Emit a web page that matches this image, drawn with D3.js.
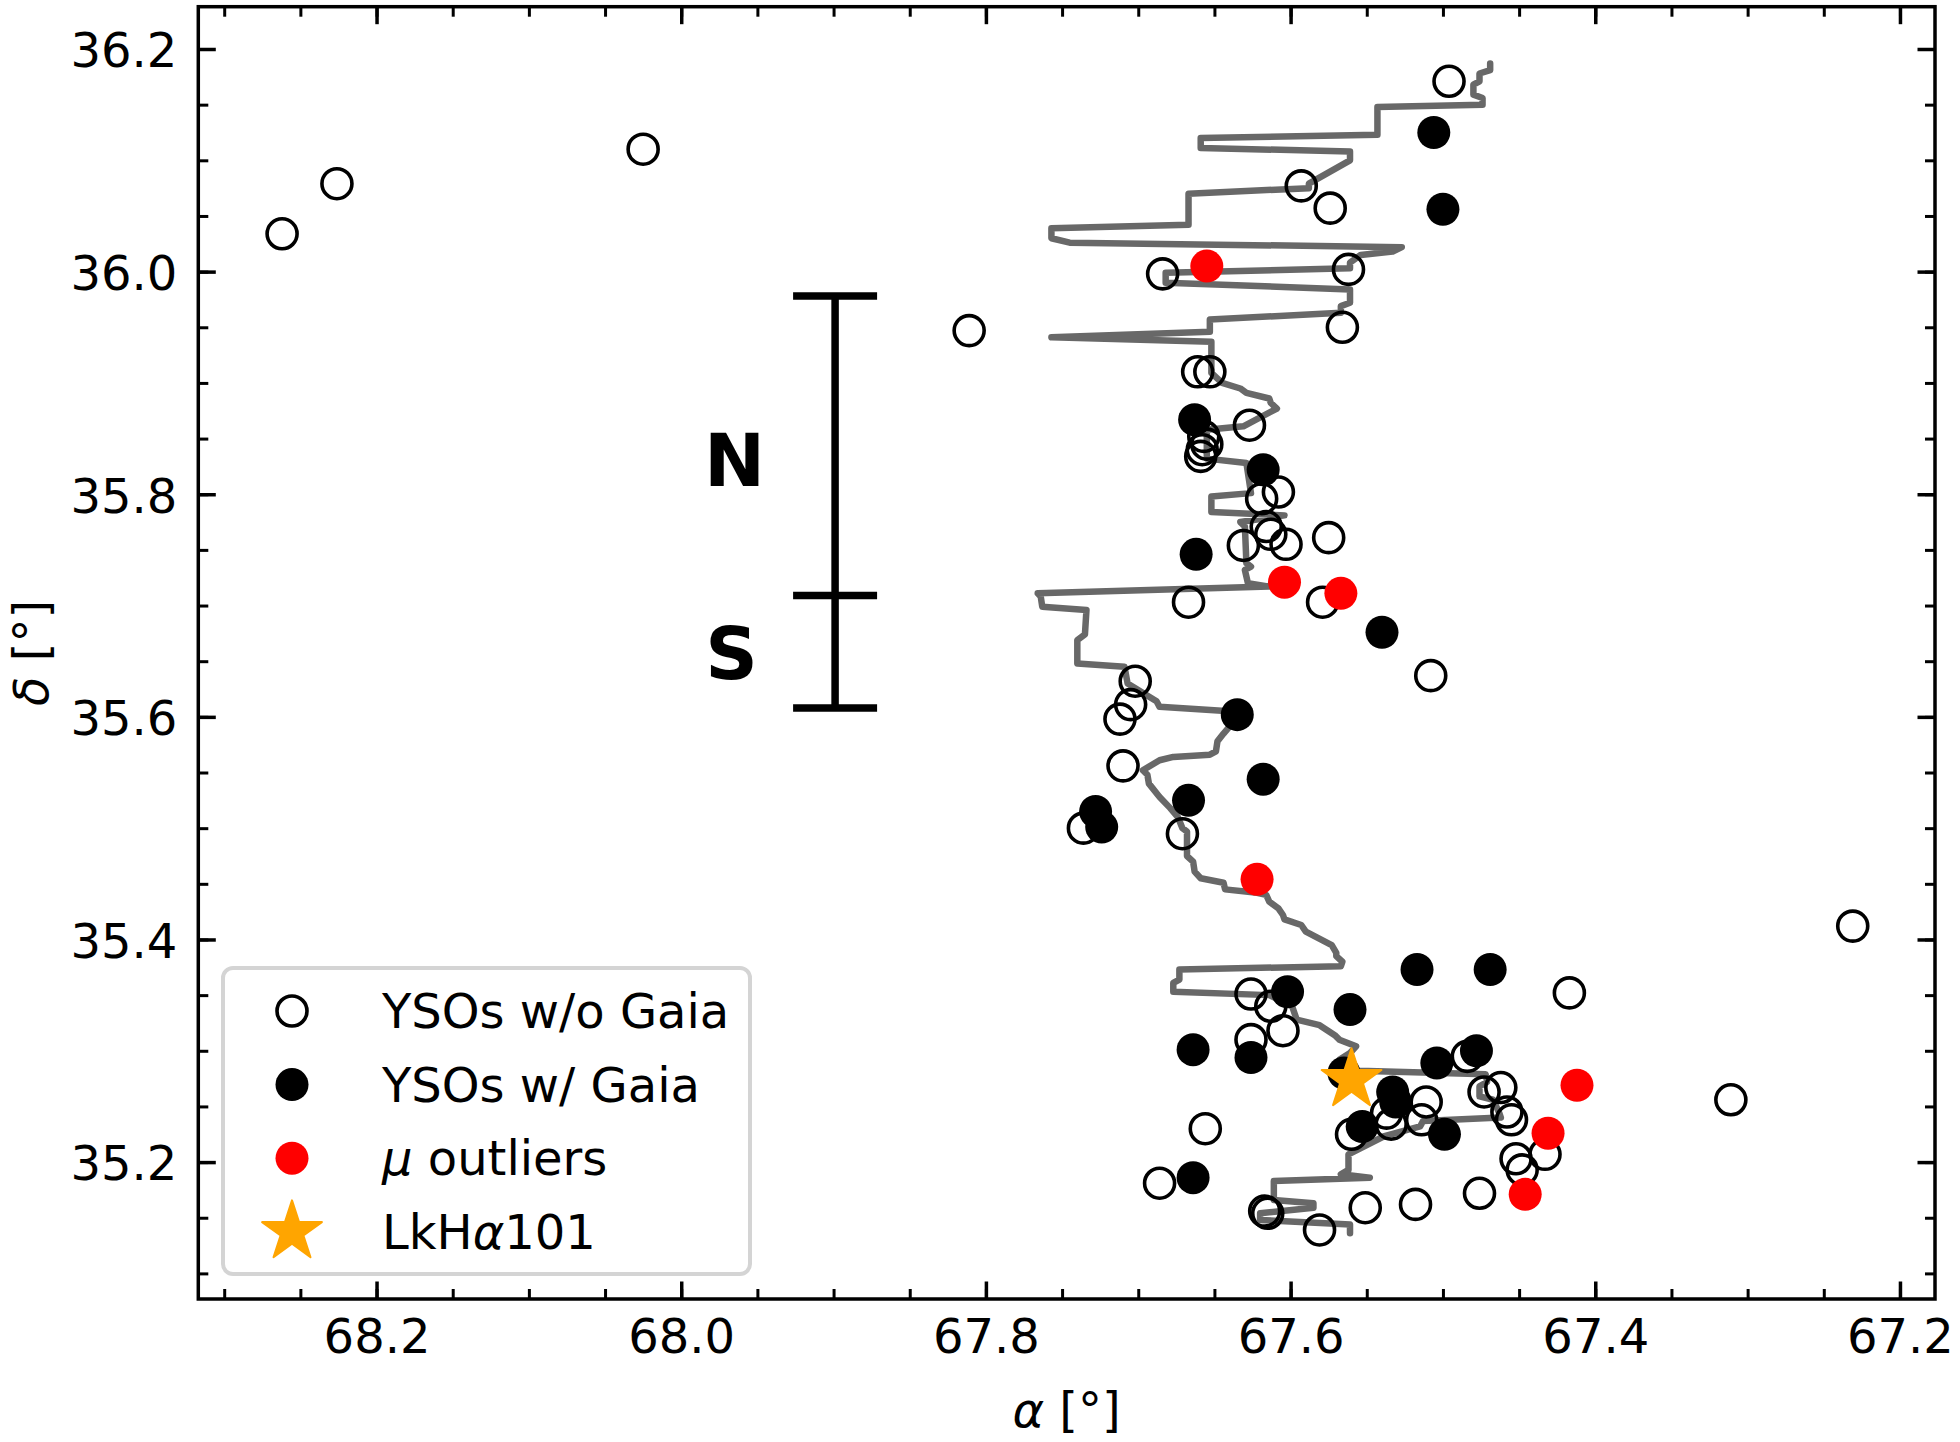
<!DOCTYPE html>
<html>
<head>
<meta charset="utf-8">
<script src="https://cdn.jsdelivr.net/npm/d3@7"></script>
<style>
  body { margin: 0; background: #fff; }
  svg { display: block; }
</style>
</head>
<body>
<div id="chart"></div>
<script>
// --- data (RA / Dec in degrees) ---
const noGaiaRA  = [68.262, 68.226, 68.025, 67.811, 67.496, 67.593, 67.574, 67.684, 67.562, 67.566,
                   67.661, 67.653, 67.627, 67.657, 67.655, 67.658, 67.659, 67.608, 67.619, 67.616,
                   67.613, 67.603, 67.631, 67.575, 67.579, 67.667, 67.508, 67.702, 67.705, 67.712,
                   67.710, 67.736, 67.671, 67.231, 67.417, 67.626, 67.613, 67.605, 67.626, 67.484,
                   67.511, 67.473, 67.462, 67.458, 67.455, 67.514, 67.534, 67.537, 67.560, 67.433,
                   67.452, 67.448, 67.656, 67.686, 67.476, 67.617, 67.615, 67.581, 67.551, 67.518,
                   67.311];
const noGaiaDec = [36.034, 36.079, 36.110, 35.947, 36.171, 36.077, 36.057, 35.998, 36.002, 35.950,
                   35.910, 35.910, 35.862, 35.852, 35.845, 35.840, 35.834, 35.802, 35.796, 35.771,
                   35.764, 35.755, 35.754, 35.761, 35.703, 35.703, 35.637, 35.632, 35.611, 35.598,
                   35.556, 35.500, 35.495, 35.412, 35.352, 35.351, 35.340, 35.318, 35.310, 35.295,
                   35.254, 35.263, 35.267, 35.245, 35.238, 35.238, 35.234, 35.244, 35.225, 35.207,
                   35.203, 35.193, 35.230, 35.181, 35.172, 35.156, 35.154, 35.139, 35.159, 35.162,
                   35.256];

const gaiaRA  = [67.506, 67.500, 67.663, 67.618, 67.662, 67.540, 67.635, 67.618, 67.667, 67.728,
                 67.724, 67.517, 67.469, 67.602, 67.561, 67.626, 67.664, 67.504, 67.478, 67.565,
                 67.533, 67.531, 67.553, 67.499, 67.664];
const gaiaDec = [36.125, 36.056, 35.867, 35.822, 35.746, 35.676, 35.602, 35.544, 35.525, 35.515,
                 35.501, 35.373, 35.373, 35.353, 35.337, 35.294, 35.301, 35.289, 35.300, 35.280,
                 35.263, 35.254, 35.232, 35.225, 35.186];

const outlierRA  = [67.655, 67.604, 67.567, 67.622, 67.412, 67.431, 67.446];
const outlierDec = [36.005, 35.721, 35.711, 35.454, 35.269, 35.226, 35.171];

const lkhaRA  = [67.560];
const lkhaDec = [35.274];

// filament ridge
const ridgeRA = [67.469, 67.469, 67.476, 67.476, 67.480, 67.480, 67.474, 67.474, 67.543, 67.543,
                 67.659, 67.659, 67.561, 67.561, 67.588, 67.588, 67.667, 67.667, 67.757, 67.757,
                 67.745, 67.527, 67.533, 67.554, 67.561, 67.561, 67.682, 67.682, 67.561, 67.561,
                 67.567, 67.567, 67.653, 67.653, 67.757, 67.652,
                 67.652, 67.645, 67.633, 67.629, 67.614, 67.613, 67.609, 67.631, 67.655, 67.655,
                 67.629, 67.626, 67.652, 67.652, 67.604, 67.633, 67.630, 67.629, 67.626, 67.630,
                 67.628, 67.614, 67.766, 67.764, 67.763, 67.734,
                 67.735, 67.740, 67.740, 67.709, 67.707, 67.688, 67.686, 67.640, 67.639, 67.644,
                 67.648, 67.649, 67.653, 67.677, 67.686, 67.697, 67.694, 67.693, 67.686, 67.679,
                 67.674, 67.671, 67.668, 67.668, 67.664, 67.663, 67.659, 67.644, 67.643, 67.622,
                 67.616, 67.614, 67.608,
                 67.605, 67.604, 67.593, 67.590, 67.573, 67.570, 67.570, 67.566, 67.567, 67.673,
                 67.673, 67.677, 67.677, 67.614, 67.599, 67.596, 67.581, 67.571, 67.568, 67.557,
                 67.561, 67.568, 67.566, 67.555, 67.472, 67.471, 67.476, 67.476, 67.467, 67.463,
                 67.462, 67.513, 67.515, 67.539, 67.562, 67.562, 67.567, 67.548, 67.611, 67.611,
                 67.585, 67.585, 67.620, 67.620, 67.561, 67.561];
const ridgeDec = [36.187, 36.181, 36.178, 36.171, 36.168, 36.159, 36.156, 36.150, 36.148, 36.123,
                  36.120, 36.111, 36.108, 36.100, 36.079, 36.075, 36.070, 36.042, 36.039, 36.030,
                  36.026, 36.022, 36.018, 36.015, 36.008, 36.003, 35.999, 35.990, 35.984, 35.972,
                  35.969, 35.963, 35.957, 35.946, 35.941, 35.937,
                  35.909, 35.900, 35.895, 35.891, 35.886, 35.882, 35.877, 35.861, 35.858, 35.832,
                  35.828, 35.801, 35.798, 35.784, 35.781, 35.775, 35.771, 35.738, 35.735, 35.732,
                  35.720, 35.717, 35.711, 35.708, 35.699, 35.696,
                  35.674, 35.669, 35.648, 35.645, 35.630, 35.614, 35.609, 35.605, 35.593, 35.585,
                  35.578, 35.569, 35.566, 35.564, 35.561, 35.552, 35.548, 35.540, 35.528, 35.518,
                  35.510, 35.500, 35.497, 35.475, 35.470, 35.461, 35.455, 35.451, 35.445, 35.442,
                  35.440, 35.434, 35.428,
                  35.422, 35.418, 35.413, 35.407, 35.395, 35.388, 35.385, 35.380, 35.376, 35.373,
                  35.364, 35.361, 35.353, 35.350, 35.340, 35.328, 35.323, 35.314, 35.310, 35.304,
                  35.298, 35.292, 35.284, 35.282, 35.279, 35.272, 35.268, 35.259, 35.256, 35.244,
                  35.240, 35.237, 35.232, 35.223, 35.207, 35.193, 35.189, 35.186, 35.183, 35.166,
                  35.163, 35.159, 35.154, 35.148, 35.144, 35.136];

// N / S region bar
const regionRA = 67.899;
const regionDec = [35.978, 35.709, 35.608];
const regionLabels = ["N", "S"];
const regionLabelRA = [67.965, 67.967];
const regionLabelDec = [35.831, 35.658];

const xTicks = [68.2, 68.0, 67.8, 67.6, 67.4, 67.2];
const yTicks = [35.2, 35.4, 35.6, 35.8, 36.0, 36.2];
const legendLabels = ["YSOs w/o Gaia", "YSOs w/ Gaia", "μ outliers", "LkHα101"];

// --- layout ---
const W = 1960, H = 1442;
const L = 198.3, R = 1935, T = 6.7, B = 1299;
const FONT = "'DejaVu Sans', sans-serif";

const svg = d3.select('#chart').append('svg')
  .attr('width', W).attr('height', H)
  .style('background', '#fff');

const x = d3.scaleLinear().domain([68.317, 67.177]).range([L, R]);
const y = d3.scaleLinear().domain([35.077, 36.238]).range([B, T]);

const minorX = d3.range(67.20, 68.35, 0.05).map(v => +v.toFixed(2)).filter(v => v > 67.177 && v < 68.317);
const minorY = d3.range(35.10, 36.25, 0.05).map(v => +v.toFixed(2)).filter(v => v > 35.077 && v < 36.238);

// axes: inward ticks on all four sides
function styleAxis(g, w) {
  g.select('.domain').remove();
  g.selectAll('.tick line').attr('stroke', '#000').attr('stroke-width', w);
  g.selectAll('text').attr('font-family', FONT).attr('font-size', 48).attr('fill', '#000');
}
svg.append('g').attr('transform', `translate(0,${B})`)
  .call(d3.axisBottom(x).tickValues(xTicks).tickSize(-17.5).tickPadding(20).tickFormat(d3.format('.1f')))
  .call(g => styleAxis(g, 3.5));
svg.append('g').attr('transform', `translate(0,${B})`)
  .call(d3.axisBottom(x).tickValues(minorX).tickSize(-10).tickFormat(''))
  .call(g => styleAxis(g, 3));
svg.append('g').attr('transform', `translate(0,${T})`)
  .call(d3.axisTop(x).tickValues(xTicks).tickSize(-17.5).tickFormat(''))
  .call(g => styleAxis(g, 3.5));
svg.append('g').attr('transform', `translate(0,${T})`)
  .call(d3.axisTop(x).tickValues(minorX).tickSize(-10).tickFormat(''))
  .call(g => styleAxis(g, 3));
svg.append('g').attr('transform', `translate(${L},0)`)
  .call(d3.axisLeft(y).tickValues(yTicks).tickSize(-17.5).tickPadding(21).tickFormat(d3.format('.1f')))
  .call(g => styleAxis(g, 3.5))
  .call(g => g.selectAll('text').attr('dy', '0.37em'));
svg.append('g').attr('transform', `translate(${L},0)`)
  .call(d3.axisLeft(y).tickValues(minorY).tickSize(-10).tickFormat(''))
  .call(g => styleAxis(g, 3));
svg.append('g').attr('transform', `translate(${R},0)`)
  .call(d3.axisRight(y).tickValues(yTicks).tickSize(-17.5).tickFormat(''))
  .call(g => styleAxis(g, 3.5));
svg.append('g').attr('transform', `translate(${R},0)`)
  .call(d3.axisRight(y).tickValues(minorY).tickSize(-10).tickFormat(''))
  .call(g => styleAxis(g, 3));

svg.append('rect')
  .attr('x', L).attr('y', T).attr('width', R - L).attr('height', B - T)
  .attr('fill', 'none').attr('stroke', '#000').attr('stroke-width', 3.5);

// axis labels
const xl = svg.append('text').attr('x', (L + R) / 2).attr('y', 1427)
  .attr('text-anchor', 'middle').attr('font-family', FONT).attr('font-size', 48);
xl.append('tspan').attr('font-style', 'italic').text('α');
xl.append('tspan').text(' [°]');

const yl = svg.append('text')
  .attr('transform', `translate(48,${(T + B) / 2}) rotate(-90)`)
  .attr('text-anchor', 'middle').attr('font-family', FONT).attr('font-size', 48);
yl.append('tspan').attr('font-style', 'italic').text('δ');
yl.append('tspan').text(' [°]');

// ridge line
const ridge = ridgeRA.map((a, i) => [a, ridgeDec[i]]);
svg.append('path')
  .datum(ridge)
  .attr('fill', 'none').attr('stroke', '#686868').attr('stroke-width', 6.5)
  .attr('stroke-linejoin', 'round').attr('stroke-linecap', 'round')
  .attr('d', d3.line().x(d => x(d[0])).y(d => y(d[1])));

// region bar
const barX = x(regionRA);
svg.append('line')
  .attr('x1', barX).attr('x2', barX)
  .attr('y1', y(d3.max(regionDec))).attr('y2', y(d3.min(regionDec)))
  .attr('stroke', '#000').attr('stroke-width', 7.5);
svg.selectAll('.cap').data(regionDec).join('line')
  .attr('class', 'cap')
  .attr('x1', barX - 42).attr('x2', barX + 42)
  .attr('y1', d => y(d)).attr('y2', d => y(d))
  .attr('stroke', '#000').attr('stroke-width', 7.5);
svg.selectAll('.rlab').data(regionLabels).join('text')
  .attr('class', 'rlab')
  .attr('x', (d, i) => x(regionLabelRA[i]))
  .attr('y', (d, i) => y(regionLabelDec[i]))
  .attr('dy', '0.36em')
  .attr('text-anchor', 'middle')
  .attr('font-family', FONT).attr('font-weight', 'bold').attr('font-size', 73)
  .text(d => d);

// points
const pts = (ra, dec) => ra.map((a, i) => [a, dec[i]]);
const R_OPEN = 15, R_FILL = 16.5;
const starPath = d3.symbol().type(d3.symbolStar).size(1110);

svg.append('g').selectAll('circle').data(pts(noGaiaRA, noGaiaDec)).join('circle')
  .attr('cx', d => x(d[0])).attr('cy', d => y(d[1])).attr('r', R_OPEN)
  .attr('fill', 'none').attr('stroke', '#000').attr('stroke-width', 3.6);
svg.append('g').selectAll('circle').data(pts(gaiaRA, gaiaDec)).join('circle')
  .attr('cx', d => x(d[0])).attr('cy', d => y(d[1])).attr('r', R_FILL)
  .attr('fill', '#000');
svg.append('g').selectAll('circle').data(pts(outlierRA, outlierDec)).join('circle')
  .attr('cx', d => x(d[0])).attr('cy', d => y(d[1])).attr('r', R_FILL)
  .attr('fill', '#ff0000');
svg.append('g').selectAll('path').data(pts(lkhaRA, lkhaDec)).join('path')
  .attr('transform', d => `translate(${x(d[0])},${y(d[1])})`)
  .attr('d', starPath())
  .attr('fill', '#ffa500').attr('stroke', '#ffa500').attr('stroke-width', 2).attr('stroke-linejoin', 'round');

// legend
const leg = svg.append('g');
leg.append('rect')
  .attr('x', 223).attr('y', 968).attr('width', 527).attr('height', 306).attr('rx', 10)
  .attr('fill', '#fff').attr('fill-opacity', 0.8)
  .attr('stroke', '#d4d4d4').attr('stroke-width', 4);
const rowY = i => 1011 + i * 73.6;
const mx = 292, tx = 382;
leg.append('circle').attr('cx', mx).attr('cy', rowY(0)).attr('r', R_OPEN)
  .attr('fill', 'none').attr('stroke', '#000').attr('stroke-width', 3.6);
leg.append('circle').attr('cx', mx).attr('cy', rowY(1)).attr('r', R_FILL).attr('fill', '#000');
leg.append('circle').attr('cx', mx).attr('cy', rowY(2)).attr('r', R_FILL).attr('fill', '#ff0000');
leg.append('path').attr('transform', `translate(${mx},${rowY(3)})`).attr('d', starPath())
  .attr('fill', '#ffa500').attr('stroke', '#ffa500').attr('stroke-width', 2).attr('stroke-linejoin', 'round');

legendLabels.forEach((lab, i) => {
  const t = leg.append('text').attr('x', tx).attr('y', rowY(i)).attr('dy', '0.36em')
    .attr('font-family', FONT).attr('font-size', 48);
  // Greek letters drawn italic as in mathtext
  lab.split(/([μα])/).filter(s => s.length).forEach(s => {
    const sp = t.append('tspan').text(s);
    if (s === 'μ' || s === 'α') sp.attr('font-style', 'italic');
  });
});
</script>
</body>
</html>
